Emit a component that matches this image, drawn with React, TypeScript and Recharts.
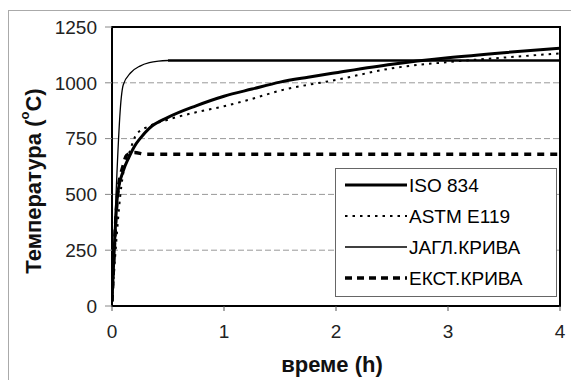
import React from 'react';
import {
  CartesianGrid,
  Line,
  LineChart,
  ReferenceArea,
  XAxis,
  YAxis,
} from 'recharts';

// time in hours, temperature in °C
const ISO_T = [0, 0.05, 0.1, 0.15, 0.2, 0.25, 0.33, 0.5, 0.75, 1, 1.25, 1.5, 1.75, 2, 2.5, 3, 3.5, 4];
const ISO_V = [20, 500, 605, 665, 715, 750, 795, 845, 897, 940, 972, 1003, 1025, 1045, 1083, 1112, 1135, 1155];

const ASTM_T = [0, 0.083, 0.167, 0.22, 0.33, 0.5, 0.75, 1, 1.25, 1.5, 2, 2.5, 3, 3.5, 4];
const ASTM_V = [20, 535, 705, 770, 805, 835, 868, 895, 928, 965, 1013, 1065, 1093, 1113, 1132];

const JAGL_T = [0, 0.083, 0.1, 0.167, 0.25, 0.333, 0.417, 0.5];
const JAGL_V = [20, 935, 990, 1045, 1075, 1090, 1097, 1100];
const JAGL_FLAT_T = [0.5, 4];
const JAGL_FLAT_V = [1100, 1100];

const EKST_T = [0, 0.05, 0.1, 0.13, 0.2, 0.3, 4];
const EKST_V = [20, 500, 630, 675, 688, 680, 680];

const X_TICKS = [0, 1, 2, 3, 4];
const Y_TICKS = [0, 250, 500, 750, 1000, 1250];

const LEGEND_ITEMS = [
  { name: 'ISO 834', width: 3, dash: undefined },
  { name: 'ASTM E119', width: 2, dash: '2.5 5' },
  { name: 'ЈАГЛ.КРИВА', width: 1.5, dash: undefined },
  { name: 'ЕКСТ.КРИВА', width: 3.5, dash: '7 5' },
];

const toPoints = (ts: number[], vs: number[]) => ts.map((t, i) => ({ t, v: vs[i] }));

const FONT = '"Liberation Sans", Arial, sans-serif';

// legend drawn as a boxed overlay inside the plot, like the original
function LegendBox() {
  return (
    <svg width={222} height={129} style={{ display: 'block' }}>
      <rect x={0.5} y={0.5} width={221} height={128} fill="#fff" stroke="#666" />
      {LEGEND_ITEMS.map((item, i) => {
        const y = 17 + i * 31;
        return (
          <g key={item.name}>
            <line
              x1={10}
              x2={72}
              y1={y}
              y2={y}
              stroke="#000"
              strokeWidth={item.width}
              strokeDasharray={item.dash}
            />
            <text x={74} y={y + 7} fontSize={19} fontFamily={FONT} fill="#000">
              {item.name}
            </text>
          </g>
        );
      })}
    </svg>
  );
}

export default function App() {
  return (
    <div style={{ position: 'relative', width: 571, height: 380 }}>
      <style>{'body{margin:0;overflow:hidden}'}</style>
      <div
        style={{
          position: 'absolute',
          left: 8,
          top: 10,
          width: 563,
          height: 370,
          borderTop: '1px solid #aaa',
          borderLeft: '1px solid #aaa',
        }}
      />
      <div style={{ position: 'absolute', left: 0, top: 0 }}>
        <LineChart width={571} height={380} margin={{ top: 27, right: 11, left: 52, bottom: 44 }}>
          <CartesianGrid vertical={false} stroke="#999" strokeDasharray="6 3" />
          <XAxis
            type="number"
            dataKey="t"
            domain={[0, 4]}
            ticks={X_TICKS}
            allowDataOverflow
            height={30}
            axisLine={false}
            tickSize={5}
            tickMargin={14}
            tickLine={{ stroke: '#555' }}
            tick={{ fontSize: 19, fontFamily: FONT, fill: '#222' }}
            label={{
              content: () => (
                <text x={332} y={372} textAnchor="middle" fontSize={22} fontWeight="bold" fontFamily={FONT} fill="#111">
                  време (h)
                </text>
              ),
            }}
          />
          <YAxis
            type="number"
            domain={[0, 1250]}
            ticks={Y_TICKS}
            allowDataOverflow
            width={60}
            axisLine={false}
            tickSize={7}
            tickMargin={8}
            tickLine={{ stroke: '#888' }}
            tick={{ fontSize: 19, fontFamily: FONT, fill: '#222' }}
            label={{
              content: () => (
                <text
                  x={33}
                  y={181}
                  transform="rotate(-90, 33, 181)"
                  textAnchor="middle"
                  dominantBaseline="central"
                  fontSize={22}
                  fontWeight="bold"
                  fontFamily={FONT}
                  fill="#111"
                >
                  Температура (
                  <tspan fontSize={13} dy={-9}>o</tspan>
                  <tspan dy={9}>C)</tspan>
                </text>
              ),
            }}
          />
          <Line
            data={toPoints(JAGL_T, JAGL_V)}
            dataKey="v"
            type="monotone"
            stroke="#000"
            strokeWidth={1.3}
            dot={false}
            isAnimationActive={false}
          />
          <Line
            data={toPoints(JAGL_FLAT_T, JAGL_FLAT_V)}
            dataKey="v"
            type="linear"
            stroke="#000"
            strokeWidth={2.5}
            dot={false}
            isAnimationActive={false}
          />
          <Line
            data={toPoints(EKST_T, EKST_V)}
            dataKey="v"
            type="monotone"
            stroke="#000"
            strokeWidth={3.5}
            strokeDasharray="7 6"
            dot={false}
            isAnimationActive={false}
          />
          <Line
            data={toPoints(ASTM_T, ASTM_V)}
            dataKey="v"
            type="monotone"
            stroke="#000"
            strokeWidth={2}
            strokeDasharray="2.5 5"
            dot={false}
            isAnimationActive={false}
          />
          <Line
            data={toPoints(ISO_T, ISO_V)}
            dataKey="v"
            type="monotone"
            stroke="#000"
            strokeWidth={3}
            dot={false}
            isAnimationActive={false}
          />
          <ReferenceArea
            x1={0}
            x2={4}
            y1={0}
            y2={1250}
            fill="none"
            stroke="#000"
            strokeWidth={2}
            fillOpacity={0}
            strokeOpacity={1}
            ifOverflow="visible"
          />
        </LineChart>
      </div>
      <div style={{ position: 'absolute', left: 335, top: 168 }}>
        <LegendBox />
      </div>
    </div>
  );
}
